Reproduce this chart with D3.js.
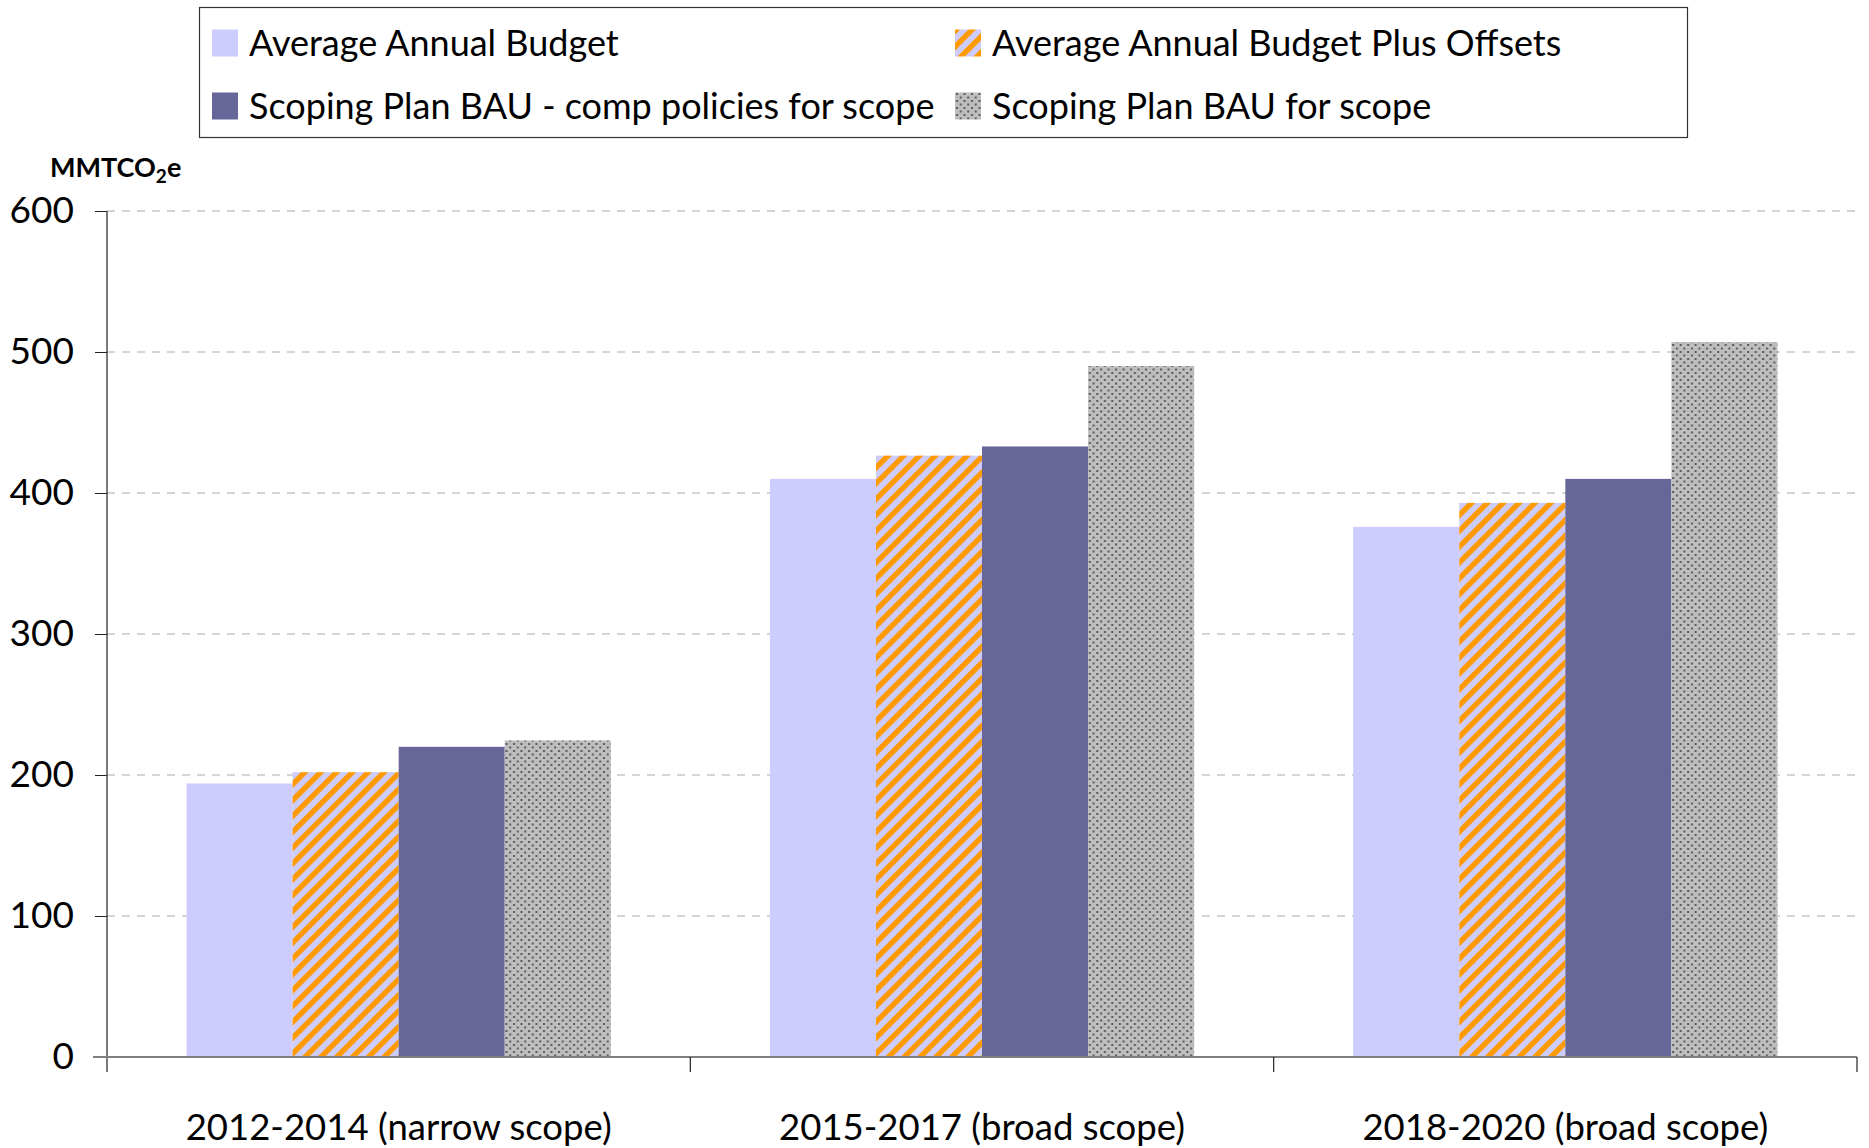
<!DOCTYPE html>
<html>
<head>
<meta charset="utf-8">
<script src="https://cdn.jsdelivr.net/npm/d3@7"></script>
<style>
  html, body { margin: 0; padding: 0; background: #fff; }
  svg { display: block; }
  text { font-family: Lato, "Open Sans", sans-serif; fill: #000; }
</style>
</head>
<body>
<svg id="chart" width="1869" height="1148"></svg>
<script>
// ---- data ----
const categories = ["2012-2014 (narrow scope)", "2015-2017 (broad scope)", "2018-2020 (broad scope)"];
const seriesNames = [
  "Average Annual Budget",
  "Average Annual Budget Plus Offsets",
  "Scoping Plan BAU - comp policies for scope",
  "Scoping Plan BAU for scope"
];
const averageAnnualBudget = [194, 410, 376];
const budgetPlusOffsets = [202, 426.5, 393];
const bauCompPolicies = [220, 433, 410];
const bauForScope = [224.5, 490, 507];
const yTicks = [0, 100, 200, 300, 400, 500, 600];
const yAxisLabel = "MMTCO";

const seriesValues = [averageAnnualBudget, budgetPlusOffsets, bauCompPolicies, bauForScope];
const seriesFill = ["#CCCCFF", "url(#stripes)", "#666699", "url(#dots)"];

// ---- layout ----
const svg = d3.select("#chart");
const plotLeft = 107, plotRight = 1857, plotTop = 211, plotBottom = 1057;

const defs = svg.append("defs");
const stripes = defs.append("pattern")
  .attr("id", "stripes").attr("patternUnits", "userSpaceOnUse")
  .attr("width", 11.2).attr("height", 11.2)
  .attr("patternTransform", "rotate(45)");
stripes.append("rect").attr("width", 11.2).attr("height", 11.2).attr("fill", "#CCCCFF");
stripes.append("rect").attr("width", 5.4).attr("height", 11.2).attr("fill", "#FF9900");

const dots = defs.append("pattern")
  .attr("id", "dots").attr("patternUnits", "userSpaceOnUse")
  .attr("width", 7.5).attr("height", 7).attr("x", 0).attr("y", 0);
dots.append("rect").attr("width", 7.5).attr("height", 7).attr("fill", "#BEBEBE");
dots.append("rect").attr("x", 1).attr("y", 1).attr("width", 2).attr("height", 2).attr("fill", "#5a5a5a");
dots.append("rect").attr("x", 4.75).attr("y", 4.5).attr("width", 2).attr("height", 2).attr("fill", "#5a5a5a");

const x0 = d3.scaleBand().domain(categories).range([plotLeft, plotRight]).paddingInner(0).paddingOuter(0);
const x1 = d3.scaleBand().domain(d3.range(seriesNames.length)).range([0, x0.bandwidth()])
  .paddingInner(0).paddingOuter(0.75);
const y = d3.scaleLinear().domain([0, 600]).range([plotBottom, plotTop]);

// gridlines
svg.append("g").selectAll("line").data(yTicks.filter(d => d > 0)).join("line")
  .attr("x1", plotLeft).attr("x2", plotRight)
  .attr("y1", d => y(d)).attr("y2", d => y(d))
  .attr("stroke", "#c8c8c8").attr("stroke-width", 1.5).attr("stroke-dasharray", "8,7");

// bars
const groups = svg.append("g").selectAll("g").data(categories).join("g")
  .attr("transform", d => `translate(${x0(d)},0)`);
groups.selectAll("rect")
  .data((c, ci) => seriesValues.map((vals, si) => ({ si, v: vals[ci] })))
  .join("rect")
  .attr("x", d => x1(d.si))
  .attr("width", x1.bandwidth())
  .attr("y", d => y(d.v))
  .attr("height", d => y(0) - y(d.v))
  .attr("fill", d => seriesFill[d.si]);

// y axis
const yAxis = d3.axisLeft(y).tickValues(yTicks).tickSize(12).tickPadding(21).tickFormat(d3.format("d"));
const yg = svg.append("g").attr("transform", `translate(${plotLeft},0)`).call(yAxis);
yg.select(".domain").attr("stroke", "#222").attr("stroke-width", 1.2)
  .attr("d", `M0,${plotTop}V${plotBottom + 15}`);
yg.selectAll(".tick line").attr("stroke", "#222");
yg.selectAll(".tick text").style("font-size", "37px").style("font-family", "Lato, sans-serif").attr("fill", "#000");

// x axis
const xg = svg.append("g").attr("transform", `translate(0,${plotBottom})`);
xg.append("line").attr("x1", plotLeft - 14).attr("x2", plotRight).attr("y1", 0).attr("y2", 0)
  .attr("stroke", "#808080").attr("stroke-width", 2);
const boundaries = categories.map(c => x0(c)).concat([plotRight]);
xg.selectAll("line.bt").data(boundaries.slice(1)).join("line").attr("class", "bt")
  .attr("x1", d => d).attr("x2", d => d).attr("y1", 0).attr("y2", 15)
  .attr("stroke", "#222").attr("stroke-width", 1.2);
xg.selectAll("text.cl").data(categories).join("text").attr("class", "cl")
  .attr("x", d => x0(d) + x0.bandwidth() / 2).attr("y", 83)
  .attr("text-anchor", "middle").style("font-size", "36.5px").text(d => d);

// y axis title
const yt = svg.append("text").attr("x", 50).attr("y", 177)
  .style("font-size", "27px").style("font-weight", "bold");
yt.append("tspan").text(yAxisLabel);
yt.append("tspan").attr("dy", 6).style("font-size", "19px").text("2");
yt.append("tspan").attr("dy", -6).text("e");

// legend
const legend = svg.append("g");
legend.append("rect").attr("x", 199.5).attr("y", 7.5).attr("width", 1488).attr("height", 130)
  .attr("fill", "#fff").attr("stroke", "#333").attr("stroke-width", 1.2);
const legendCols = [212, 955], legendRows = [43, 106];
const legendItems = legend.selectAll("g").data(seriesNames).join("g")
  .attr("transform", (d, i) => `translate(${legendCols[i % 2]},${legendRows[Math.floor(i / 2)]})`);
legendItems.append("rect").attr("x", 0).attr("y", -13.5).attr("width", 26).attr("height", 27)
  .attr("fill", (d, i) => seriesFill[i]);
legendItems.append("text").attr("x", 37).attr("y", 0).attr("dy", "0.35em")
  .style("font-size", "36px").text(d => d);
</script>
</body>
</html>
